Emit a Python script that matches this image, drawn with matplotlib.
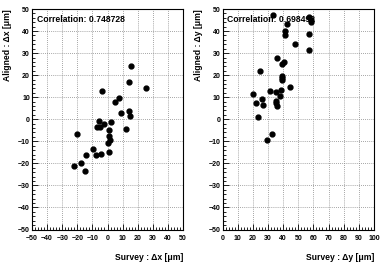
import numpy as np
import matplotlib
matplotlib.use('Agg')
import matplotlib.pyplot as plt
from matplotlib.ticker import MultipleLocator

# survey vs aligned offsets, x direction
sx = [14.2, 25.3, -3.8, 7.8, 5.2, 8.7, 14.4, 14.9, -5.8, 2.5, -2.5, -6.8, -5.0,
      1.0, 12.0, -20.0, 1.2, 1.9, 0.1, 0.8, -9.8, -14.0, -7.6, -4.3, -22.0,
      -17.8, -15.1, 15.6]
ax_ = [16.7, 14.2, 12.7, 9.5, 7.7, 3.0, 3.8, 1.4, -0.6, -1.4, -2.1, -3.5, -3.5,
       -5.0, -4.4, -6.9, -7.5, -9.6, -10.9, -14.8, -13.7, -16.1, -16.4, -15.8,
       -21.0, -19.9, -23.4, 24.0]

# survey vs aligned offsets, y direction
sy = [33.1, 57.1, 58.5, 58.1, 42.3, 41.2, 41.4, 57.1, 48.0, 56.8, 36.2, 39.5,
      40.4, 24.7, 39.3, 39.4, 39.5, 44.5, 31.6, 35.5, 38.8, 20.4, 38.2, 26.3,
      22.1, 26.6, 35.5, 35.5, 36.3, 23.4, 32.6, 29.3]
ay = [47.5, 46.3, 45.1, 44.2, 43.3, 39.8, 38.3, 38.8, 34.1, 31.2, 27.6, 25.2,
      25.8, 21.9, 19.8, 18.9, 17.6, 14.7, 12.9, 12.5, 13.1, 11.6, 10.5, 9.2,
      7.3, 6.6, 8.4, 7.2, 6.0, 1.0, -6.9, -9.5]

corr = ['Correlation: 0.748728', 'Correlation: 0.698492']
xlabels = [u'Survey : \u0394x [\u03bcm]', u'Survey : \u0394y [\u03bcm]']
ylabels = [u'Aligned : \u0394x [\u03bcm]', u'Aligned : \u0394y [\u03bcm]']
xlims = [(-50, 50), (0, 100)]

plt.rcParams['font.family'] = ['Liberation Sans', 'DejaVu Sans']

W, H = 382, 273
fig = plt.figure(figsize=(W/100, H/100), dpi=100)
fig.patch.set_facecolor('white')

boxes = [(32, 183), (222.5, 374)]
top, bot = 9, 229.5
data = [(sx, ax_), (sy, ay)]

for i in range(2):
    l, r = boxes[i]
    ax = fig.add_axes([l/W, 1-bot/H, (r-l)/W, (bot-top)/H])
    x, y = data[i]
    ax.plot(x, y, 'o', color='k', markersize=3.5, zorder=3)
    ax.set_xlim(*xlims[i])
    ax.set_ylim(-50, 50)
    ax.xaxis.set_major_locator(MultipleLocator(10))
    ax.xaxis.set_minor_locator(MultipleLocator(2))
    ax.yaxis.set_major_locator(MultipleLocator(10))
    ax.yaxis.set_minor_locator(MultipleLocator(2))
    ax.grid(True, which='major', color='#888888', linestyle=(0, (1, 1.5)), linewidth=0.6)
    ax.tick_params(which='major', direction='in', length=4, width=0.6,
                   labelsize=5.0, top=False, right=False)
    ax.tick_params(which='minor', direction='in', length=2, width=0.6,
                   top=False, right=False)
    ax.tick_params(axis='x', pad=4)
    ax.tick_params(axis='y', pad=1.5)
    for lab in ax.get_xticklabels() + ax.get_yticklabels():
        lab.set_fontweight('bold')
    for s in ax.spines.values():
        s.set_linewidth(0.8)
    ax.text(0.03, 0.975, corr[i], transform=ax.transAxes, ha='left', va='top',
            fontsize=6.2, fontweight='bold', zorder=2)
    fig.text(r/W, 1-258/H, xlabels[i], ha='right', va='center', fontsize=6.2,
             fontweight='bold')
    fig.text((l-24)/W, 1-top/H, ylabels[i], ha='center', va='top', rotation=90,
             fontsize=6.2, fontweight='bold')

fig.savefig('out.png', dpi=100)
